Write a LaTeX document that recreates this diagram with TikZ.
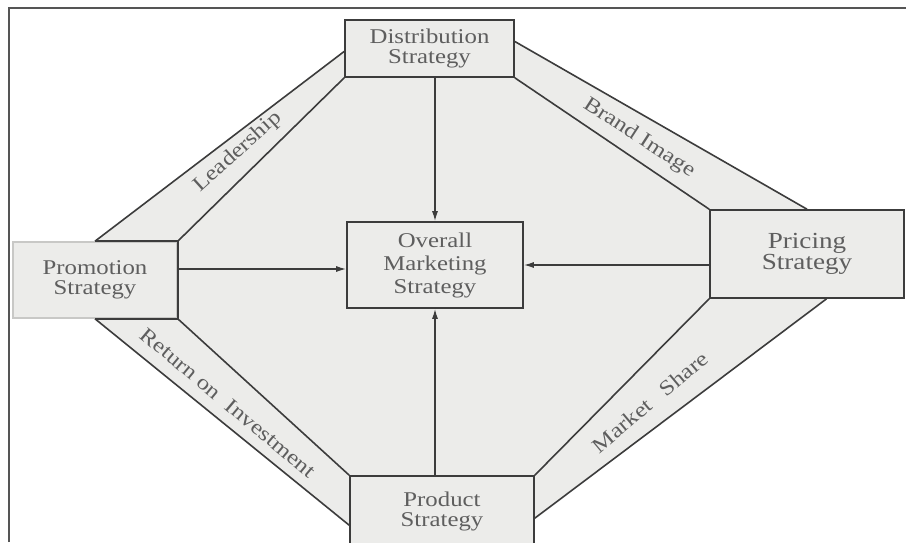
\documentclass[tikz,border=0pt]{standalone}
\usepackage{fontspec}
\setmainfont[FakeStretch=1.18]{Liberation Serif}
\usetikzlibrary{arrows.meta,calc,backgrounds}
\definecolor{ink}{HTML}{3C3C3C}
\definecolor{txt}{HTML}{5E5E5E}
\definecolor{paper}{HTML}{ECECEA}
\definecolor{framec}{HTML}{555555}
\definecolor{faded}{HTML}{C8C8C6}
\begin{document}
\begin{tikzpicture}[x=1pt,y=-1pt,
  box/.style={rectangle, draw=ink, line width=1.6pt, fill=paper, inner sep=0pt,
    align=center, text=txt, font=\fontsize{21}{20}\selectfont},
  ln/.style={draw=ink, line width=1.6pt},
  arr/.style={draw=ink, line width=1.4pt, -{Latex[length=10pt,width=6pt]}},
  bandlabel/.style={text=txt, font=\fontsize{21}{21}\selectfont, inner sep=0pt},
  framel/.style={draw=framec, line width=2pt}
]
\useasboundingbox (0,0) rectangle (906,542);

% boxes
\node[box, minimum width=169pt, minimum height=57pt] (dist) at (429.5,48.5) {Distribution\\Strategy};
\node[box, minimum width=176pt, minimum height=86pt, font=\fontsize{21}{23}\selectfont] (over) at (435,265) {Overall\\Marketing\\Strategy};
\node[box, draw=faded, minimum width=164pt, minimum height=76pt] (prom) at (95,280) {Promotion\\Strategy};
\node[box, minimum width=194pt, minimum height=88pt, font=\fontsize{23}{21}\selectfont] (pric) at (807,254) {Pricing\\Strategy};
\node[box, minimum width=184pt, minimum height=70pt] (prod) at (442,511) {Product\\Strategy};

% band end points
\coordinate (L1) at (prom.north);
\coordinate (L2) at ($(dist.north west)!0.55!(dist.south west)$);
\coordinate (B1) at ($(dist.north east)!0.38!(dist.south east)$);
\coordinate (B2) at (pric.north);
\coordinate (M1) at ($(pric.south west)!0.6!(pric.south east)$);
\coordinate (M2) at ($(prod.north east)+(0,43)$);
\coordinate (R1) at (prom.south);
\coordinate (R2) at ($(prod.north west)+(0,50)$);

\begin{scope}[on background layer]
  \fill[white] (0,0) rectangle (906,542);
  \fill[paper] (prom.north west) -- (L1) -- (L2) -- (dist.north west) -- (dist.north east)
    -- (B1) -- (B2) -- (pric.north east) -- (pric.south east) -- (M1) -- (M2)
    -- (prod.south east) -- (prod.south west) -- (R2) -- (R1) -- (prom.south west) -- cycle;
\end{scope}

% frame
\draw[framel] (9,542) -- (9,7.5) -- (906,7.5);

% promotion box dark edges
\draw[ln] (prom.north) -- (prom.north east) -- (prom.south east) -- (prom.south);

% bands
\draw[ln] (L1) -- (L2);
\draw[ln] (prom.north east) -- (dist.south west);
\draw[ln] (B1) -- (B2);
\draw[ln] (dist.south east) -- (pric.north west);
\draw[ln] (M1) -- (M2);
\draw[ln] (pric.south west) -- (prod.north east);
\draw[ln] (R1) -- (R2);
\draw[ln] (prom.south east) -- (prod.north west);

% band labels
\node[bandlabel, rotate=42] (lead) at (238,152) {Leadership};
\node[bandlabel, rotate=-33] (brand) at (639,138) {Brand Image};
\node[bandlabel, rotate=-40] (roi) at (228,403) {Return on\hspace{0.3em} Investment};
\node[bandlabel, rotate=40] (mshare) at (650,402) {Market\hspace{0.5em} Share};

% arrows
\draw[arr] (dist.south -| over.north) -- (over.north);
\draw[arr] ([yshift=-4pt]over.west -| prom.east) -- ([yshift=-4pt]over.west);
\draw[arr] (over.east -| pric.west) -- (over.east);
\draw[arr] (prod.north -| over.south) -- (over.south);
\end{tikzpicture}
\end{document}
